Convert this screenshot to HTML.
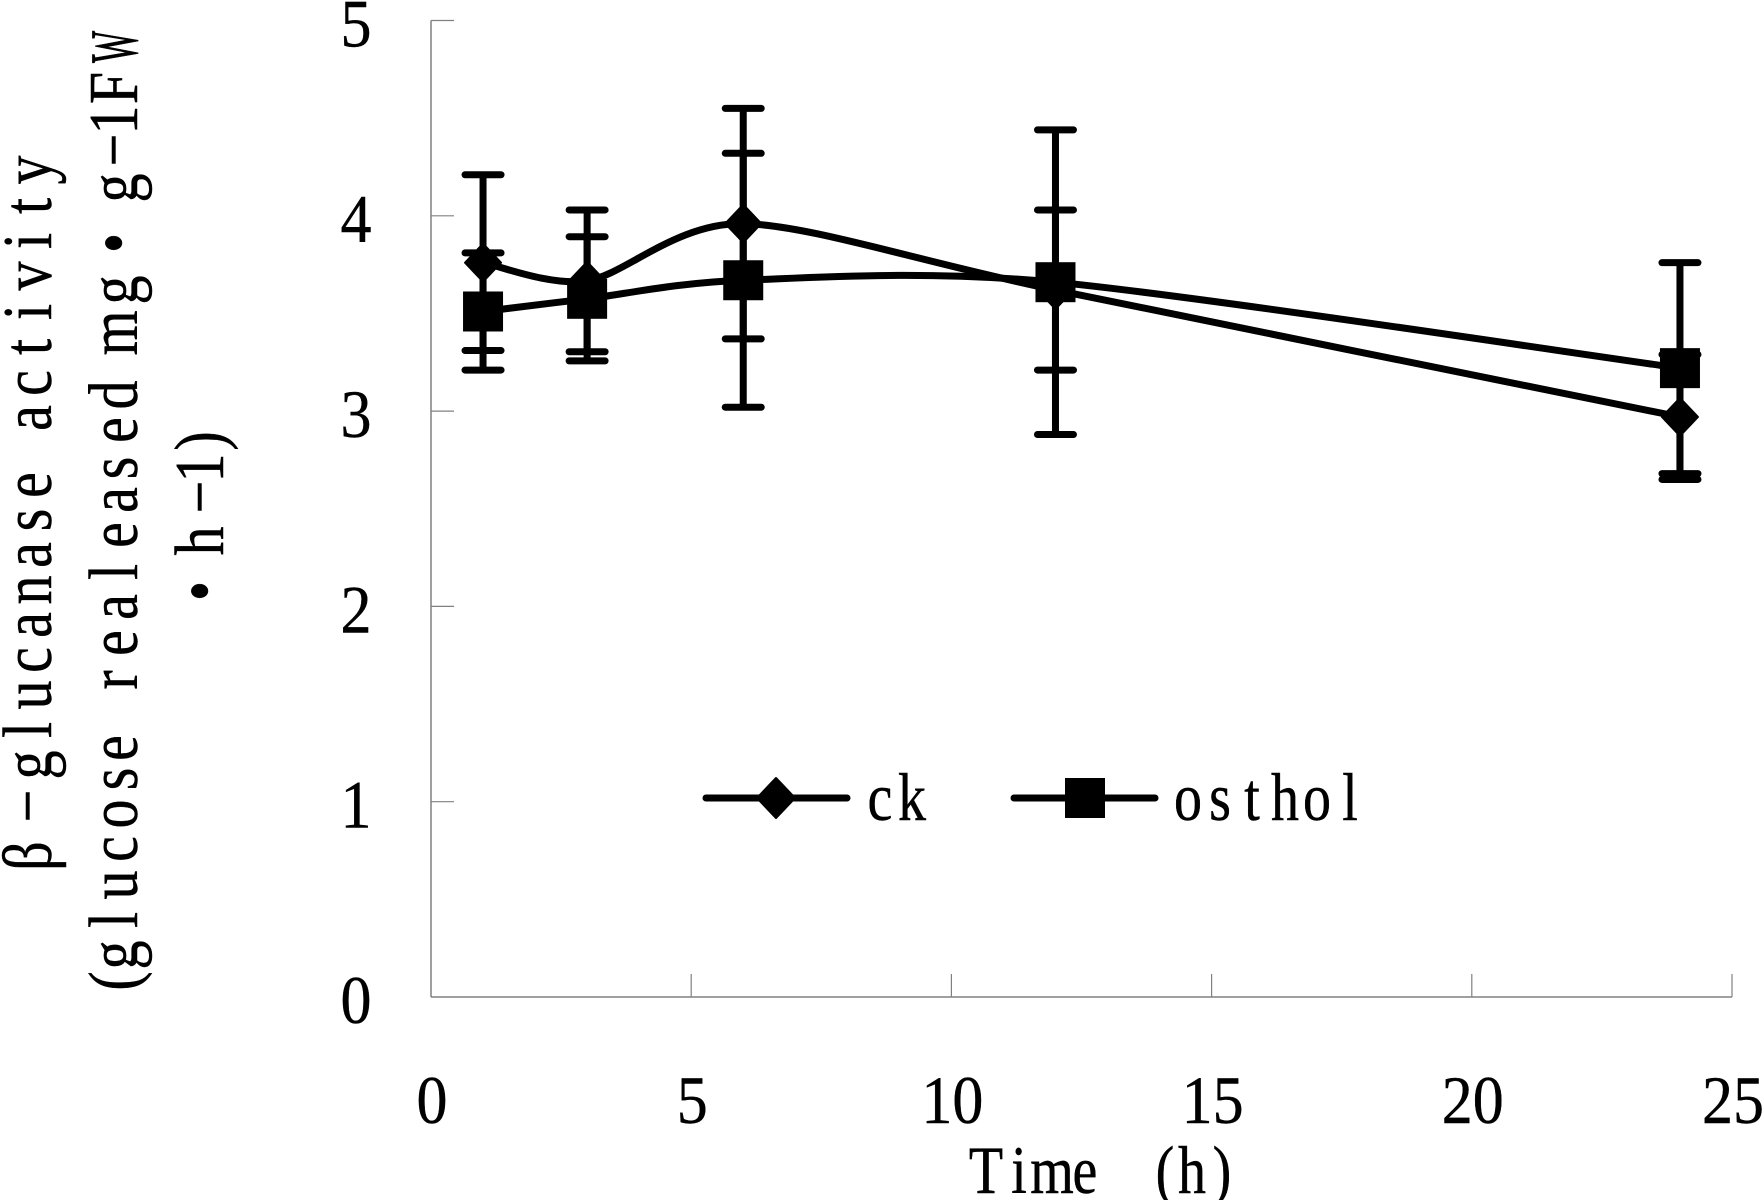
<!DOCTYPE html>
<html>
<head>
<meta charset="utf-8">
<title>β-glucanase activity over time</title>
<style>
html,body{margin:0;padding:0;background:#fff;}
svg{display:block;}
text{font-family:"Liberation Serif","Noto Serif CJK SC",serif;fill:#000;stroke:#000;stroke-width:0.4;}
</style>
</head>
<body>
<svg id="chart" xmlns="http://www.w3.org/2000/svg" width="1763" height="1200" viewBox="0 0 1763 1200">
  <rect x="0" y="0" width="1763" height="1200" fill="#fff"/>

  <g font-size="58" text-anchor="middle">
    <text transform="translate(51,0) rotate(-90) scale(1,1.21)" x="-856 -806 -765 -730 -695 -660 -625 -590 -555 -520 -485 -452 -418 -383 -347 -312 -276 -241 -206 -170">β−glucanase activity</text>
    <text transform="translate(137,0) rotate(-90) scale(1,1.21)" x="-981 -955 -920 -885 -849 -814 -779 -748 -714 -680 -643 -607 -572 -535 -500 -468 -430 -395 -364 -333 -290 -266 -243 -215 -188 -150 -120 -88">(glucose realeased mg • g−1F</text>
    <text font-size="34" transform="translate(137,0) rotate(-90) scale(1,2)" x="-47">W</text>
    <text transform="translate(223,0) rotate(-90) scale(1,1.21)" x="-591 -566 -541 -497 -468 -441">• h−1)</text>
  </g>

  <text font-size="56" text-anchor="middle" transform="translate(0,1193) scale(1,1.21)" x="986 1019 1052 1085 1125 1165 1192 1222" y="0">Time (h)</text>

  <g id="axes"></g>
  <g id="series"></g>

  <g>
    <g>
      <line x1="706" y1="798" x2="847" y2="798" stroke="#000" stroke-width="7" stroke-linecap="round"/>
      <polygon points="776,778 795,798 776,818 757,798" fill="#000" stroke="#000" stroke-width="2" stroke-linejoin="round"/>
      <text font-size="56" text-anchor="middle" transform="translate(0,820) scale(1,1.21)" x="880 912" y="0">ck</text>
    </g>
    <g>
      <line x1="1014" y1="798" x2="1155" y2="798" stroke="#000" stroke-width="7" stroke-linecap="round"/>
      <rect x="1065" y="778" width="40" height="40" fill="#000"/>
      <text font-size="56" text-anchor="middle" transform="translate(0,820) scale(1,1.21)" x="1188 1220 1252 1285 1317 1350" y="0">osthol</text>
    </g>
  </g>
</svg>

<script>
// Chart data
var timePoints = [1, 3, 6, 12, 24];
var ckMean = [3.76, 3.667, 3.96, 3.62, 2.97];
var ckError = [0.45, 0.363, 0.59, 0.41, 0.32];
var ostholMean = [3.51, 3.575, 3.67, 3.66, 3.22];
var ostholError = [0.30, 0.318, 0.65, 0.78, 0.54];
var xTickLabels = [0, 5, 10, 15, 20, 25];
var yTickLabels = [0, 1, 2, 3, 4, 5];

var NS = 'http://www.w3.org/2000/svg';
var plot = { left: 431, right: 1732, top: 20.5, bottom: 997 };
var xMax = 25;
var yMax = 5;

function xScale(v) {
  return plot.left + (v / xMax) * (plot.right - plot.left);
}
function yScale(v) {
  return plot.bottom - (v / yMax) * (plot.bottom - plot.top);
}
function make(tag, attrs, parent) {
  var el = document.createElementNS(NS, tag);
  for (var k in attrs) {
    el.setAttribute(k, attrs[k]);
  }
  parent.appendChild(el);
  return el;
}

var axes = document.getElementById('axes');
var seriesLayer = document.getElementById('series');
var AXIS_COLOR = '#808080';
var TICK_LEN = 23;

// Axis lines
var yAxisLine = make('line', { x1: plot.left, y1: plot.top, x2: plot.left, y2: plot.bottom, stroke: AXIS_COLOR, 'stroke-width': 1.5 }, axes);


var xAxisLine = make('line', { x1: plot.left, y1: plot.bottom, x2: plot.right, y2: plot.bottom, stroke: AXIS_COLOR, 'stroke-width': 1.5 }, axes);



// Y ticks and labels
yTickLabels.forEach(function (v) {
  var y = yScale(v);
  if (v !== 0) {
    var tick = make('line', { x1: plot.left, y1: y, x2: plot.left + TICK_LEN, y2: y, stroke: AXIS_COLOR, 'stroke-width': 1.2 }, axes);
    
    
  }
  var label = make('text', { 'font-size': 62, 'text-anchor': 'middle', transform: 'translate(356,' + (y + 26) + ') scale(1,1.09)' }, axes);
  
  
  label.textContent = String(v);
});

// X ticks and labels
xTickLabels.forEach(function (v) {
  var x = xScale(v);
  if (v !== 0) {
    var tick = make('line', { x1: x, y1: plot.bottom, x2: x, y2: plot.bottom - TICK_LEN, stroke: AXIS_COLOR, 'stroke-width': 1.2 }, axes);
    
    
  }
  var label = make('text', { 'font-size': 62, 'text-anchor': 'middle', transform: 'translate(' + (x + 1) + ',1123) scale(1,1.09)' }, axes);
  
  
  label.textContent = String(v);
});

// Excel-style smoothed path through the points
function smoothPath(xs, ys) {
  var pts = xs.map(function (x, i) { return [xScale(x), yScale(ys[i])]; });
  var d = 'M' + pts[0][0] + ' ' + pts[0][1];
  var k = 7;
  for (var i = 0; i < pts.length - 1; i++) {
    var p0 = pts[Math.max(i - 1, 0)];
    var p1 = pts[i];
    var p2 = pts[i + 1];
    var p3 = pts[Math.min(i + 2, pts.length - 1)];
    var c1x = p1[0] + (p2[0] - p0[0]) / k;
    var c1y = p1[1] + (p2[1] - p0[1]) / k;
    var c2x = p2[0] - (p3[0] - p1[0]) / k;
    var c2y = p2[1] - (p3[1] - p1[1]) / k;
    d += ' C' + c1x + ' ' + c1y + ' ' + c2x + ' ' + c2y + ' ' + p2[0] + ' ' + p2[1];
  }
  return d;
}

function drawErrorBars(means, errors, group) {
  timePoints.forEach(function (t, i) {
    var x = xScale(t);
    var hi = yScale(means[i] + errors[i]);
    var lo = yScale(means[i] - errors[i]);
    var stem = make('line', { x1: x, y1: hi, x2: x, y2: lo, stroke: '#000', 'stroke-width': 7 }, group);
    
    
    [hi, lo].forEach(function (y) {
      var cap = make('line', { x1: x - 18, y1: y, x2: x + 18, y2: y, stroke: '#000', 'stroke-width': 7, 'stroke-linecap': 'round' }, group);
      
      
    });
  });
}

// ck series
var ckGroup = make('g', {}, seriesLayer);


drawErrorBars(ckMean, ckError, ckGroup);
var ckLine = make('path', { d: smoothPath(timePoints, ckMean), fill: 'none', stroke: '#000', 'stroke-width': 7 }, ckGroup);


timePoints.forEach(function (t, i) {
  var x = xScale(t);
  var y = yScale(ckMean[i]);
  var pts = x + ',' + (y - 19) + ' ' + (x + 18) + ',' + y + ' ' + x + ',' + (y + 19) + ' ' + (x - 18) + ',' + y;
  var marker = make('polygon', { points: pts, fill: '#000', stroke: '#000', 'stroke-width': 2, 'stroke-linejoin': 'round' }, ckGroup);
  
  
});

// osthol series
var ostholGroup = make('g', {}, seriesLayer);


drawErrorBars(ostholMean, ostholError, ostholGroup);
var ostholLine = make('path', { d: smoothPath(timePoints, ostholMean), fill: 'none', stroke: '#000', 'stroke-width': 7 }, ostholGroup);


timePoints.forEach(function (t, i) {
  var x = xScale(t);
  var y = yScale(ostholMean[i]);
  var marker = make('rect', { x: x - 20, y: y - 20, width: 40, height: 40, fill: '#000' }, ostholGroup);
  
  
});
</script>
</body>
</html>
